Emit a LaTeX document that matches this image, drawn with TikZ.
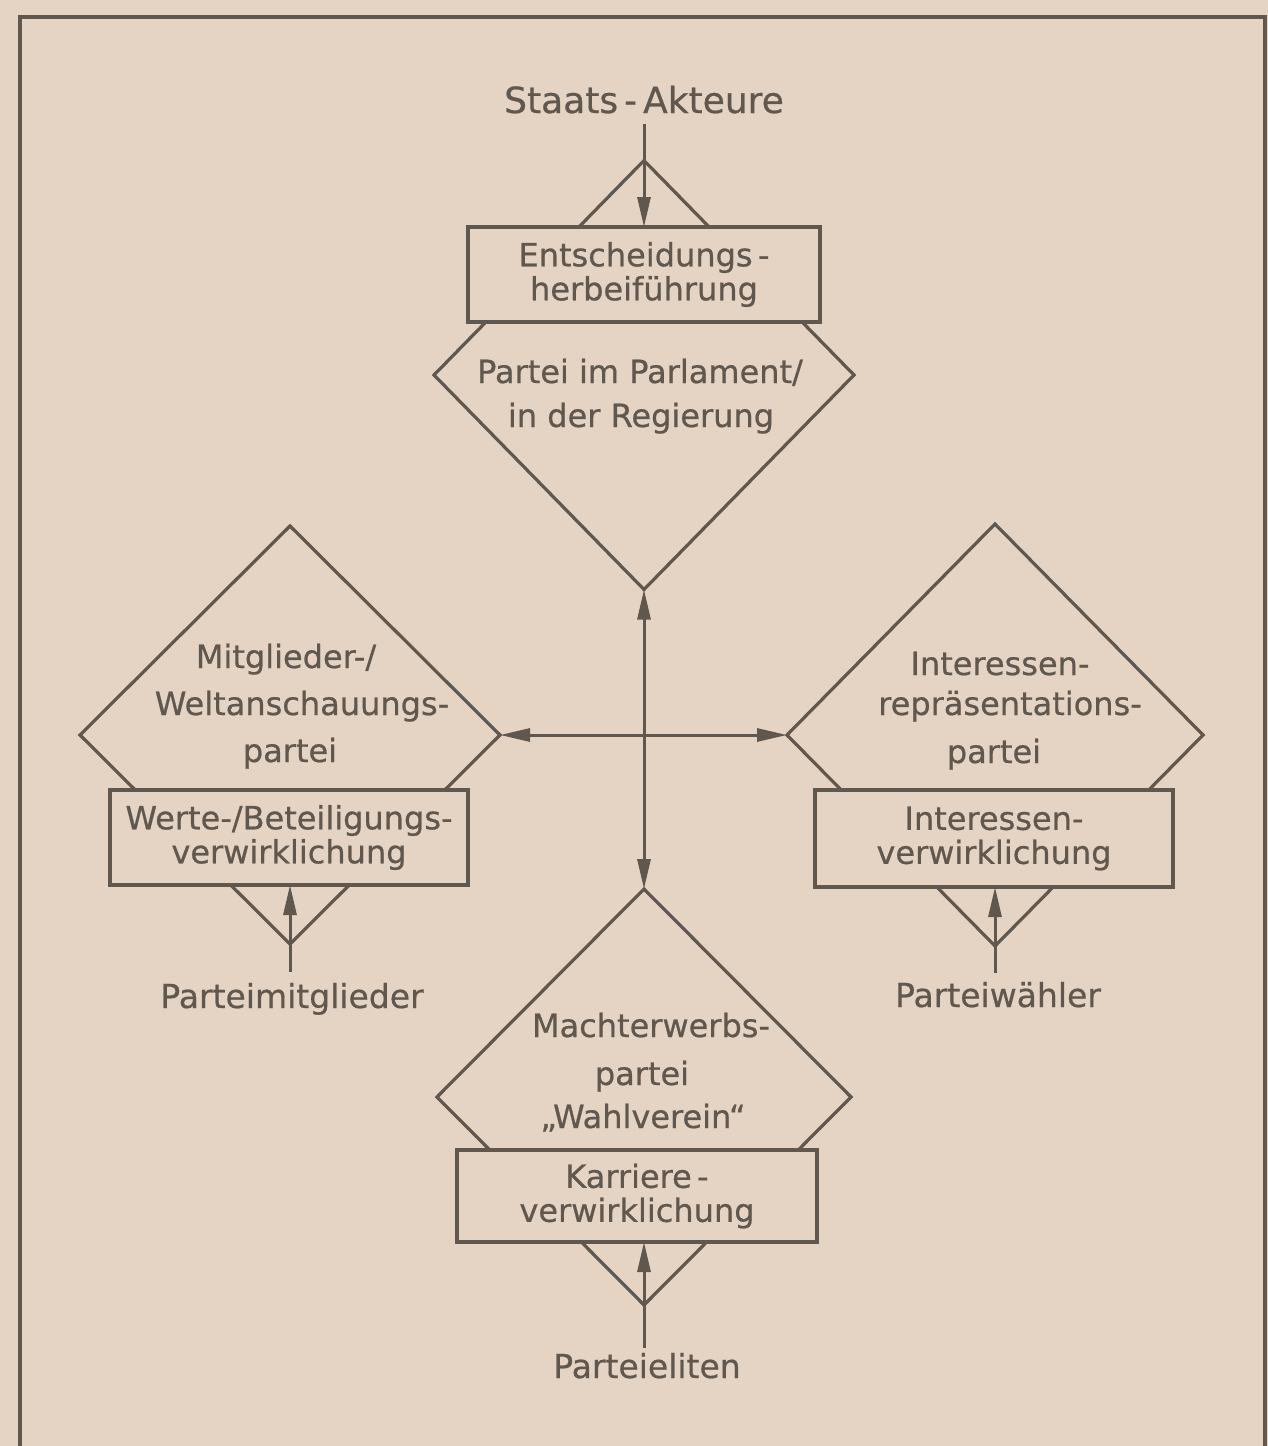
\documentclass[tikz,border=0pt]{standalone}
\usepackage{fontspec}
\setmainfont{DejaVu Sans}[FakeBold=0.6]
\usetikzlibrary{shapes.geometric,arrows.meta}
\definecolor{paper}{RGB}{229,212,196}
\definecolor{ink}{RGB}{96,87,78}
\begin{document}
\begin{tikzpicture}[x=1pt,y=-1pt,
  every node/.style={text=ink},
  raute/.style={diamond, draw=ink, line width=3.2pt, inner sep=0pt, outer sep=0pt},
  kasten/.style={rectangle, draw=ink, fill=paper, line width=3.2pt, inner sep=0pt, outer sep=0pt, align=center, font=\fontsize{32}{34}\selectfont},
  zeile/.style={anchor=base, inner sep=0pt, font=\fontsize{32}{38}\selectfont},
  aussen/.style={anchor=base, inner sep=0pt, font=\fontsize{33}{38}\selectfont},
  pfeil/.style={draw=ink, line width=3pt, -{Triangle[length=30pt,width=13pt]}},
  doppel/.style={draw=ink, line width=3pt, {Triangle[length=30pt,width=13pt]}-{Triangle[length=30pt,width=13pt]}},
  rahmen/.style={draw=ink, line width=3.4pt}
]
% background and frame
\fill[paper] (0,0) rectangle (1268,1446);
\useasboundingbox (0,0) rectangle (1268,1446);
\draw[rahmen] (20,1446) -- (20,17) -- (1265,17) -- (1265,1446);

% diamonds
\node[raute, minimum width=420pt, minimum height=429pt] (dTop) at (644,375) {};
\node[raute, minimum width=420pt, minimum height=418pt] (dLeft) at (290,735) {};
\node[raute, minimum width=416pt, minimum height=422pt] (dRight) at (995,735) {};
\node[raute, minimum width=414pt, minimum height=416pt] (dBot) at (644,1097) {};

% boxes
\node[kasten, minimum width=352pt, minimum height=95pt] (bTop) at (644,274.5) {Entscheidungs\,-\\herbeiführung};
\node[kasten, minimum width=358pt, minimum height=95pt] (bLeft) at (289,837.5) {Werte-/Beteiligungs-\\verwirklichung};
\node[kasten, minimum width=358pt, minimum height=97pt] (bRight) at (994,838.5) {Interessen-\\verwirklichung};
\node[kasten, minimum width=360pt, minimum height=92pt] (bBot) at (637,1196) {Karriere\,-\\verwirklichung};

% diamond texts
\node[zeile] (t1a) at (640,383) {Partei im Parlament/};
\node[zeile] (t1b) at (641,427) {in der Regierung};

\node[zeile] (t2a) at (286,668) {Mitglieder-/};
\node[zeile] (t2b) at (302,715) {Weltanschauungs-};
\node[zeile] (t2c) at (290,762) {partei};

\node[zeile] (t3a) at (1000,675) {Interessen-};
\node[zeile] (t3b) at (1010,715) {repräsentations-};
\node[zeile] (t3c) at (994,763) {partei};

\node[zeile] (t4a) at (651,1037) {Machterwerbs-};
\node[zeile] (t4b) at (642,1085) {partei};
\node[zeile] (t4c) at (643,1128) {„Wahlverein“};

% outer labels
\node[aussen, font=\fontsize{36}{40}\selectfont] (sa) at (644,113) {Staats\,-\,Akteure};
\node[aussen] (pm) at (292,1008) {Parteimitglieder};
\node[aussen] (pw) at (998,1007) {Parteiwähler};
\node[aussen] (pe) at (647,1378) {Parteieliten};

% arrows
\draw[pfeil, shorten <=10pt] (sa.south) -- (sa.south |- bTop.north);
\draw[pfeil, shorten <=11pt] (dLeft.south |- pm.north) -- (dLeft.south |- bLeft.south);
\draw[pfeil, shorten <=9pt] (dRight.south |- pw.north) -- (dRight.south |- bRight.south);
\draw[pfeil, shorten <=5pt] (dBot.south |- pe.north) -- (dBot.south |- bBot.south);
\draw[doppel] (dTop.south) -- (dBot.north);
\draw[doppel] (dLeft.east) -- (dRight.west);
\end{tikzpicture}
\end{document}
